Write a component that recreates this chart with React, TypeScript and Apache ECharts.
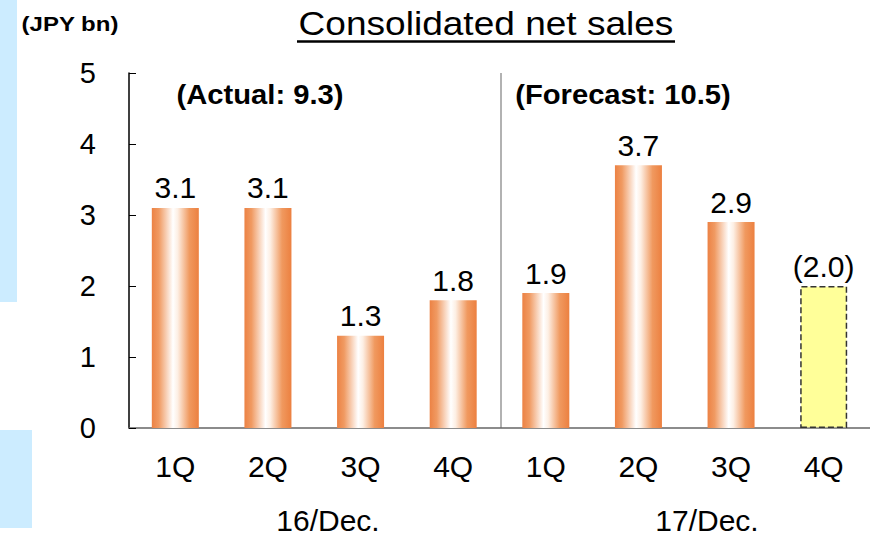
import React, { useEffect, useRef } from "react";
import * as echarts from "echarts";

const categories = ["1Q", "2Q", "3Q", "4Q", "1Q", "2Q", "3Q", "4Q"];
const values = [3.1, 3.1, 1.3, 1.8, 1.9, 3.7, 2.9, 2.0];
const isForecastPending = [false, false, false, false, false, false, false, true];
const valueLabels = ["3.1", "3.1", "1.3", "1.8", "1.9", "3.7", "2.9", "(2.0)"];
const yMin = 0;
const yMax = 5;
const yInterval = 1;
const groupLabels = ["16/Dec.", "17/Dec."];
const periodNotes = ["(Actual: 9.3)", "(Forecast: 10.5)"];
const titleText = "Consolidated net sales";
const unitText = "(JPY bn)";

const FONT = "'Liberation Sans', Arial, sans-serif";

export default function App() {
  const ref = useRef<HTMLDivElement>(null);

  useEffect(() => {
    if (!ref.current) return;
    const chart = echarts.init(ref.current, null, { renderer: "svg" });

    const gridLeft = 129;
    const gridTop = 73;
    const gridWidth = 744;
    const gridBottomY = 428;
    const band = gridWidth / categories.length;
    const dividerX = gridLeft + band * 4;

    const orangeGrad = new echarts.graphic.LinearGradient(0, 0, 1, 0, [
      { offset: 0, color: "#EC8244" },
      { offset: 0.15, color: "#F09A62" },
      { offset: 0.45, color: "#FFFFFF" },
      { offset: 0.55, color: "#FDEFE4" },
      { offset: 0.8, color: "#F0995F" },
      { offset: 1, color: "#EC8040" },
    ]);

    const data = values.map((v, i) =>
      isForecastPending[i]
        ? {
            value: v,
            itemStyle: {
              color: "#FFFF99",
              borderColor: "#333333",
              borderWidth: 1.5,
              borderType: "dashed",
            },
          }
        : { value: v, itemStyle: { color: orangeGrad } }
    );

    chart.setOption({
      animation: false,
      backgroundColor: "#FFFFFF",
      textStyle: { fontFamily: FONT },
      grid: {
        left: gridLeft,
        top: gridTop,
        width: gridWidth,
        height: gridBottomY - gridTop,
        containLabel: false,
      },
      xAxis: {
        type: "category",
        data: categories,
        axisLine: { show: true, lineStyle: { color: "#666666", width: 1.5 } },
        axisTick: { show: false },
        axisLabel: {
          color: "#000000",
          fontSize: 30,
          fontFamily: FONT,
          margin: 23,
          interval: 0,
        },
        splitLine: { show: false },
      },
      yAxis: {
        type: "value",
        min: yMin,
        max: yMax,
        interval: yInterval,
        axisLine: { show: true, lineStyle: { color: "#000000", width: 1.5 } },
        axisTick: {
          show: true,
          inside: true,
          length: 7,
          lineStyle: { color: "#000000", width: 1 },
        },
        axisLabel: {
          color: "#000000",
          fontSize: 29,
          fontFamily: FONT,
          margin: 33,
        },
        splitLine: { show: false },
      },
      series: [
        {
          type: "bar",
          data,
          barWidth: 47,
          label: {
            show: true,
            position: "top",
            distance: 5,
            color: "#000000",
            fontSize: 30,
            fontFamily: FONT,
            formatter: (p: any) => valueLabels[p.dataIndex],
          },
        },
      ],
      graphic: [
        {
          type: "rect",
          shape: { x: 0, y: 0, width: 17, height: 302 },
          style: { fill: "#CCECFF" },
          silent: true,
        },
        {
          type: "rect",
          shape: { x: 0, y: 430, width: 32, height: 98 },
          style: { fill: "#CCECFF" },
          silent: true,
        },
        {
          type: "text",
          x: 70,
          y: 24,
          scaleX: 1.2,
          style: {
            text: unitText,
            fill: "#000000",
            font: `bold 20px ${FONT}`,
            textAlign: "center",
            textVerticalAlign: "middle",
          },
        },
        {
          type: "text",
          x: 486,
          y: 24,
          scaleX: 1.09,
          style: {
            text: titleText,
            fill: "#000000",
            font: `34px ${FONT}`,
            textAlign: "center",
            textVerticalAlign: "middle",
          },
        },
        {
          type: "line",
          shape: { x1: 297, y1: 41.5, x2: 675, y2: 41.5 },
          style: { stroke: "#000000", lineWidth: 2.5 },
        },
        {
          type: "text",
          x: 260,
          y: 95,
          scaleX: 1.08,
          style: {
            text: periodNotes[0],
            fill: "#000000",
            font: `bold 27px ${FONT}`,
            textAlign: "center",
            textVerticalAlign: "middle",
          },
        },
        {
          type: "text",
          x: 623,
          y: 95,
          scaleX: 1.08,
          style: {
            text: periodNotes[1],
            fill: "#000000",
            font: `bold 27px ${FONT}`,
            textAlign: "center",
            textVerticalAlign: "middle",
          },
        },
        {
          type: "line",
          shape: { x1: dividerX, y1: gridTop, x2: dividerX, y2: gridBottomY },
          style: { stroke: "#999999", lineWidth: 1.5 },
        },
        {
          type: "text",
          x: 328,
          y: 520,
          style: {
            text: groupLabels[0],
            fill: "#000000",
            font: `30px ${FONT}`,
            textAlign: "center",
            textVerticalAlign: "middle",
          },
        },
        {
          type: "text",
          x: 707,
          y: 520,
          style: {
            text: groupLabels[1],
            fill: "#000000",
            font: `30px ${FONT}`,
            textAlign: "center",
            textVerticalAlign: "middle",
          },
        },
      ],
    });

    return () => chart.dispose();
  }, []);

  return (
    <div
      ref={ref}
      style={{ position: "fixed", left: 0, top: 0, width: 870, height: 536 }}
    />
  );
}
